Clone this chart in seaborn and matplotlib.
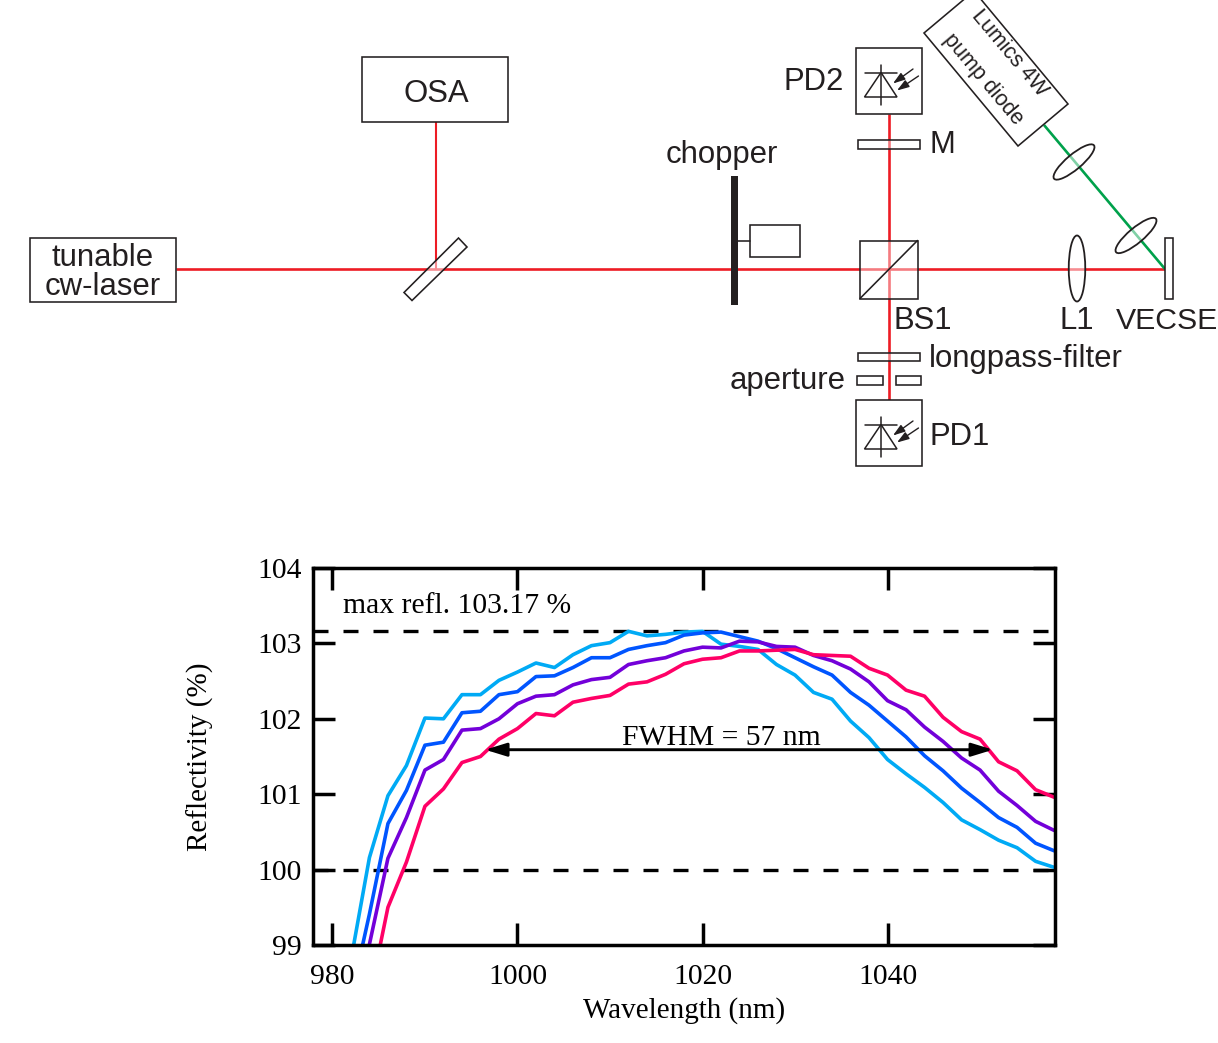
import matplotlib
matplotlib.use("Agg")
import matplotlib.pyplot as plt
import pandas as pd
import seaborn as sns
from matplotlib.patches import Ellipse, Polygon, Rectangle

# reflectivity curves, one value every 2 nm
wavelength = list(range(982, 1060, 2))
cyan_curve = [98.80, 100.16, 100.98, 101.38, 102.01, 102.00, 102.32, 102.32, 102.51, 102.62,
              102.74, 102.68, 102.85, 102.97, 103.01, 103.16, 103.10, 103.12, 103.15, 103.16,
              102.99, 102.96, 102.92, 102.72, 102.58, 102.35, 102.26, 101.97, 101.75, 101.46,
              101.27, 101.09, 100.89, 100.66, 100.53, 100.39, 100.29, 100.11, 100.03]
blue_curve = [98.30, 99.41, 100.61, 101.05, 101.65, 101.69, 102.08, 102.10, 102.32, 102.36,
              102.56, 102.57, 102.68, 102.81, 102.81, 102.92, 102.97, 103.01, 103.11, 103.14,
              103.15, 103.09, 103.03, 102.93, 102.81, 102.69, 102.58, 102.35, 102.18, 101.97,
              101.76, 101.51, 101.31, 101.08, 100.89, 100.69, 100.56, 100.35, 100.25]
purple_curve = [97.90, 99.01, 100.15, 100.69, 101.32, 101.46, 101.85, 101.87, 102.00, 102.20,
                102.30, 102.32, 102.45, 102.52, 102.55, 102.72, 102.77, 102.81, 102.90, 102.95,
                102.94, 103.03, 103.02, 102.96, 102.95, 102.84, 102.77, 102.66, 102.49, 102.24,
                102.12, 101.89, 101.70, 101.48, 101.32, 101.04, 100.85, 100.64, 100.52]
pink_curve = [97.20, 98.30, 99.50, 100.10, 100.84, 101.07, 101.42, 101.50, 101.73, 101.87,
              102.07, 102.04, 102.22, 102.27, 102.31, 102.46, 102.49, 102.59, 102.73, 102.79,
              102.81, 102.90, 102.90, 102.91, 102.92, 102.85, 102.84, 102.83, 102.67, 102.58,
              102.38, 102.30, 102.02, 101.83, 101.73, 101.43, 101.31, 101.06, 100.96]
curve_names = ["cyan", "blue", "purple", "pink"]
curve_colors = ["#00AAF5", "#0055FF", "#7300D9", "#FF0066"]
max_refl = 103.17
fwhm_level = 100
fwhm_left = 996.5
fwhm_right = 1051.4
x_ticks = [980, 1000, 1020, 1040]
y_ticks = [99, 100, 101, 102, 103, 104]

INK = "#231F20"
RED = "#ED1C24"
GREEN = "#00A14B"
SERIF = ["Liberation Serif", "DejaVu Serif"]
W, H = 1218, 1043

sns.set_theme(style="ticks")
plt.rcParams["font.family"] = ["Liberation Sans", "DejaVu Sans"]

fig = plt.figure(figsize=(W / 100, H / 100), dpi=100)


def box(ax, x0, y0, x1, y1, fc="white", alpha=1.0, lw=1.15):
    # filled part may be see-through so the beam shows, outline stays solid
    ax.add_patch(Rectangle((x0, y0), x1 - x0, y1 - y0, fc=fc, ec="none", alpha=alpha, zorder=3))
    ax.add_patch(Rectangle((x0, y0), x1 - x0, y1 - y0, fc="none", ec=INK, lw=lw, zorder=4))


def lens(ax, cx, cy, length, thick, angle):
    ax.add_patch(Ellipse((cx, cy), length, thick, angle=angle, fc="white", ec="none", alpha=0.5, zorder=3))
    ax.add_patch(Ellipse((cx, cy), length, thick, angle=angle, fc="none", ec=INK, lw=1.3, zorder=4))


def photodiode(ax, x0, y0):
    box(ax, x0, y0, x0 + 66, y0 + 65.5)
    ax.add_patch(Polygon([(x0 + 25, y0 + 24.5), (x0 + 8.5, y0 + 49), (x0 + 41, y0 + 49)],
                         closed=True, fc="none", ec=INK, lw=1.1, zorder=5))
    ax.plot([x0 + 9, x0 + 41], [y0 + 24.5, y0 + 24.5], color=INK, lw=1.1, zorder=5)
    ax.plot([x0 + 25, x0 + 25], [y0 + 17, y0 + 57], color=INK, lw=1.1, zorder=5)
    for sx, sy, ex, ey in [(57, 21, 37, 35.5), (62.5, 28, 41, 42.5)]:
        ax.annotate("", xy=(x0 + ex, y0 + ey), xytext=(x0 + sx, y0 + sy),
                    arrowprops=dict(arrowstyle="-|>,head_length=0.6,head_width=0.2", color=INK, lw=1.0,
                                    mutation_scale=12, shrinkA=0, shrinkB=0), zorder=5)


def draw_setup(ax):
    ax.set_xlim(0, W)
    ax.set_ylim(H, 0)
    ax.axis("off")

    # beams
    ax.plot([176, 1165], [269, 269], color=RED, lw=1.9, zorder=2, solid_capstyle="butt")
    ax.plot([435.5, 435.5], [122, 269], color=RED, lw=1.5, zorder=2, solid_capstyle="butt")
    ax.plot([888.5, 888.5], [114, 400], color=RED, lw=1.9, zorder=2, solid_capstyle="butt")
    ax.plot([1044, 1165], [125, 269], color=GREEN, lw=1.9, zorder=2, solid_capstyle="butt")

    box(ax, 30, 238, 176, 302)
    box(ax, 362, 57, 508, 122)
    plate = [(404, 292.5), (458.5, 238), (467, 247), (412, 300.5)]
    ax.add_patch(Polygon(plate, closed=True, fc="white", ec="none", alpha=0.5, zorder=3))
    ax.add_patch(Polygon(plate, closed=True, fc="none", ec=INK, lw=1.15, zorder=4))

    # chopper and motor
    ax.add_patch(Rectangle((730.5, 176), 7, 129, fc=INK, ec="none", zorder=5))
    ax.plot([737, 750], [241, 241], color=INK, lw=1.15, zorder=4)
    box(ax, 750, 224.5, 800, 257)

    # beam splitter cube
    box(ax, 860, 240.5, 917.5, 298.5, alpha=0.42)
    ax.plot([860, 917.5], [298.5, 240.5], color=INK, lw=1.15, zorder=5)

    box(ax, 1165, 237.5, 1173, 299)
    lens(ax, 1077, 268.5, 16.5, 66, 0)
    lens(ax, 1074, 162, 52, 15, -40)
    lens(ax, 1136, 235.5, 52, 15, -40)

    photodiode(ax, 856, 48)
    photodiode(ax, 856, 400)

    box(ax, 858, 140, 920, 148.5, alpha=0.42)
    box(ax, 858, 352.5, 920, 361, alpha=0.42)
    box(ax, 857, 376, 882.5, 384.5)
    box(ax, 895.5, 376, 920.5, 384.5)

    # pump diode housing, runs off the top edge
    ax.add_patch(Polygon([(924, 33), (1018, 146), (1068, 104), (974, -9)], closed=True,
                         fc="white", ec=INK, lw=1.15, zorder=4))

    label = dict(color=INK, fontsize=22.4, va="center", zorder=6)
    ax.text(103, 258, "tunable", ha="center", **label)
    ax.text(103, 287, "cw-laser", ha="center", **label)
    ax.text(436, 94, "OSA", ha="center", **label)
    ax.text(666, 155, "chopper", ha="left", **label)
    ax.text(844, 82, "PD2", ha="right", **label)
    ax.text(930, 145, "M", ha="left", **label)
    ax.text(893, 321, "BS1", ha="left", **label)
    ax.text(1060, 321, "L1", ha="left", **label)
    ax.text(1116, 321, "VECSE", ha="left", color=INK, fontsize=21.8, va="center", zorder=6)
    ax.text(929, 359, "longpass-filter", ha="left", **label)
    ax.text(846, 381, "aperture", ha="right", **label)
    ax.text(930, 437, "PD1", ha="left", **label)
    ax.text(1009, 53, "Lumics 4W", rotation=-50, rotation_mode="anchor", ha="center",
            va="center", color=INK, fontsize=15.5, zorder=6)
    ax.text(983, 79, "pump diode", rotation=-50, rotation_mode="anchor", ha="center",
            va="center", color=INK, fontsize=15.5, zorder=6)


def draw_reflectivity(ax):
    df = pd.DataFrame({"wavelength": wavelength, "cyan": cyan_curve, "blue": blue_curve,
                       "purple": purple_curve, "pink": pink_curve})
    df = df.melt(id_vars="wavelength", var_name="curve", value_name="reflectivity")

    ax.axhline(max_refl, color="black", lw=2.4, ls=(0, (4.5, 4.5)), zorder=1)
    ax.axhline(fwhm_level, color="black", lw=2.4, ls=(0, (4.5, 4.5)), zorder=1)

    sns.lineplot(data=df, x="wavelength", y="reflectivity", hue="curve", hue_order=curve_names,
                 palette=curve_colors, linewidth=2.6, errorbar=None, legend=False, ax=ax, zorder=2)

    ax.annotate("", xy=(fwhm_left, 101.59), xytext=(fwhm_right, 101.59),
                arrowprops=dict(arrowstyle="<|-|>,head_length=1.3,head_width=0.4", color="black",
                                lw=2.1, mutation_scale=10, shrinkA=0, shrinkB=0), zorder=3)
    ax.text(1022, 101.65, "FWHM = 57 nm", ha="center", va="baseline", fontsize=21.3,
            family=SERIF, color="black")
    ax.text(981.1, 103.40, "max refl. 103.17 %", ha="left", va="baseline", fontsize=21.3,
            family=SERIF, color="black")

    ax.set_xlim(977.9, 1058.1)
    ax.set_ylim(99, 104)
    ax.set_xticks(x_ticks)
    ax.set_yticks(y_ticks)
    ax.tick_params(direction="in", length=16, width=2.5, top=True, right=True, labelsize=21.3,
                   colors="black")
    ax.tick_params(axis="x", pad=14)
    ax.tick_params(axis="y", pad=8)
    for lab in ax.get_xticklabels() + ax.get_yticklabels():
        lab.set_family(SERIF)
    for spine in ax.spines.values():
        spine.set_visible(True)
        spine.set_linewidth(2.5)
        spine.set_color("black")
    ax.set_xlabel("Wavelength (nm)", fontsize=21, labelpad=5, family=SERIF, color="black")
    ax.set_ylabel("Reflectivity (%)", fontsize=21, labelpad=31, family=SERIF, color="black")


setup_ax = fig.add_axes([0, 0, 1, 1])
draw_setup(setup_ax)

chart_ax = fig.add_axes([313 / W, (H - 945) / H, 742 / W, 377 / H])
chart_ax.patch.set_alpha(0)
draw_reflectivity(chart_ax)

fig.savefig("out.png", dpi=100)
plt.close(fig)
